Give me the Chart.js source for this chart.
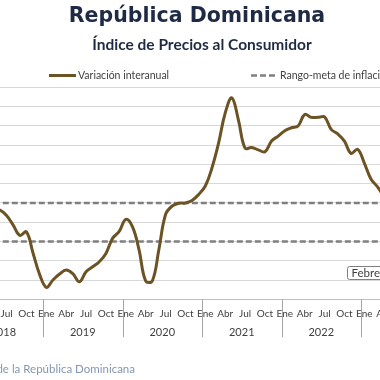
<!DOCTYPE html>
<html>
<head>
<meta charset="utf-8">
<script src="https://cdn.jsdelivr.net/npm/chart.js@4/dist/chart.umd.min.js"></script>
<style>
  html, body { margin: 0; padding: 0; background: #fff; overflow: hidden; }
  #wrap { position: relative; width: 380px; height: 380px; overflow: hidden; }
  #myChart { position: absolute; left: -60px; top: 0; }
</style>
</head>
<body>
<div id="wrap"><canvas id="myChart" width="560" height="380"></canvas></div>
<script>
// datos
const years = ['2018', '2019', '2020', '2021', '2022', '2023'];
const monthNames = ['Ene', 'Feb', 'Mar', 'Abr', 'May', 'Jun', 'Jul', 'Ago', 'Sep', 'Oct', 'Nov', 'Dic'];
const shownMonths = ['Ene', 'Abr', 'Jul', 'Oct'];

// variación interanual del IPC (%), ene 2018 - dic 2023
const var2018 = [null, null, null, null, 4.65, 4.63, 4.35, 3.85, 3.32, 3.5, 2.39, 1.28];
const var2019 = [0.62, 1.0, 1.31, 1.52, 1.33, 0.91, 1.43, 1.69, 1.95, 2.38, 3.16, 3.52];
const var2020 = [4.15, 3.77, 2.56, 0.95, 0.95, 2.6, 4.4, 4.84, 4.98, 5.0, 5.13, 5.44];
const var2021 = [5.88, 6.81, 8.1, 9.66, 10.45, 9.3, 7.84, 7.88, 7.75, 7.66, 8.21, 8.47];
const var2022 = [8.75, 8.9, 8.99, 9.59, 9.44, 9.44, 9.46, 8.82, 8.58, 8.21, 7.57, 7.78];
const var2023 = [7.07, 6.24, 5.83, 5.3, null, null, null, null, null, null, null, null];

const metaSuperior = 5;
const metaInferior = 3;
const yTicks = [0, 11, 1]; // min, max, paso

const labels = [];
years.forEach(y => monthNames.forEach(m => labels.push(m + ' ' + y)));
const variacion = [].concat(var2018, var2019, var2020, var2021, var2022, var2023);

const OFF = 60; // desplazamiento del canvas respecto a la ventana

const extras = {
    id: 'extras',
    afterDraw(chart) {
        const ctx = chart.ctx;
        const x = chart.scales.x;
        const area = chart.chartArea;
        ctx.save();

        // titulos
        ctx.fillStyle = '#1f2a44';
        ctx.textAlign = 'center';
        ctx.textBaseline = 'middle';
        ctx.font = 'bold 20.5px "DejaVu Sans"';
        ctx.fillText('República Dominicana', OFF + 197, 17);
        ctx.font = 'bold 15.5px Lato';
        ctx.fillText('Índice de Precios al Consumidor', OFF + 202, 45);

        // leyenda
        const ds = chart.data.datasets;
        const items = [
            { ds: ds[0], x0: OFF + 49, text: 'Variación interanual' },
            { ds: ds[1], x0: OFF + 251, text: 'Rango-meta de inflación' }
        ];
        ctx.font = '10.5px Lato';
        ctx.textAlign = 'left';
        items.forEach(it => {
            ctx.beginPath();
            ctx.strokeStyle = it.ds.borderColor;
            ctx.lineWidth = it.ds.borderWidth;
            ctx.setLineDash(it.ds.borderDash || []);
            ctx.moveTo(it.x0, 75.5);
            ctx.lineTo(it.x0 + 27, 75.5);
            ctx.stroke();
            ctx.setLineDash([]);
            ctx.fillStyle = '#404040';
            ctx.fillText(it.text, it.x0 + 29, 76);
        });

        // separadores y años
        const w = x.getPixelForValue(1) - x.getPixelForValue(0);
        ctx.strokeStyle = '#a6a6a6';
        ctx.lineWidth = 1;
        ctx.fillStyle = '#404040';
        ctx.font = '11px Lato';
        ctx.textAlign = 'center';
        years.forEach((y, i) => {
            const start = x.getPixelForValue(i * 12) - w / 2;
            const end = x.getPixelForValue(i * 12 + 11) + w / 2;
            ctx.beginPath();
            ctx.moveTo(Math.round(start) + 0.5, area.bottom);
            ctx.lineTo(Math.round(start) + 0.5, area.bottom + 38);
            ctx.stroke();
            ctx.fillText(y, (start + end) / 2, 332);
        });

        // etiqueta del último dato
        ctx.strokeStyle = '#7f7f7f';
        ctx.fillStyle = '#fff';
        ctx.beginPath();
        ctx.roundRect(OFF + 347.5, 266.5, 80, 13, 2);
        ctx.fill();
        ctx.stroke();
        ctx.fillStyle = '#404040';
        ctx.textAlign = 'left';
        ctx.font = '11.5px Lato';
        ctx.fillText('Febrero 2023', OFF + 351.5, 273.5);

        // fuente
        ctx.fillStyle = '#8497b0';
        ctx.textAlign = 'right';
        ctx.font = '11.5px Lato';
        ctx.fillText('Fuente: Banco Central de la República Dominicana', OFF + 135, 369);

        ctx.restore();
    }
};

const ctx = document.getElementById('myChart').getContext('2d');
const myChart = new Chart(ctx, {
    type: 'line',
    data: {
        labels: labels,
        datasets: [{
            label: 'Variación interanual',
            data: variacion,
            borderColor: '#6b5324',
            borderWidth: 3,
            tension: 0.4,
            pointRadius: 0,
            spanGaps: false,
            order: 0
        }, {
            label: 'Rango-meta de inflación',
            data: labels.map(() => metaSuperior),
            borderColor: '#7f7f7f',
            borderWidth: 2.5,
            borderDash: [6, 3],
            pointRadius: 0,
            order: 1
        }, {
            label: 'Rango-meta inferior',
            data: labels.map(() => metaInferior),
            borderColor: '#7f7f7f',
            borderWidth: 2.5,
            borderDash: [6, 3],
            pointRadius: 0,
            order: 1
        }]
    },
    options: {
        responsive: false,
        animation: false,
        devicePixelRatio: 1,
        layout: {
            padding: { left: 23.5, right: 59.5, top: 87.3, bottom: 52.7 }
        },
        plugins: {
            legend: { display: false },
            title: { display: false },
            tooltip: { enabled: false }
        },
        scales: {
            x: {
                offset: true,
                grid: { display: false, drawTicks: false },
                border: { display: true, color: '#bfbfbf', width: 1 },
                ticks: {
                    autoSkip: false,
                    maxRotation: 0,
                    padding: 8,
                    color: '#404040',
                    font: { family: 'Lato', size: 10 },
                    callback: function (val) {
                        const m = monthNames[val % 12];
                        return shownMonths.includes(m) ? m : '';
                    }
                }
            },
            y: {
                min: yTicks[0],
                max: yTicks[1],
                ticks: { display: false, stepSize: yTicks[2] },
                grid: {
                    drawTicks: false,
                    color: c => c.tick && c.tick.value === 0 ? '#bfbfbf' : '#d9d9d9'
                },
                border: { display: false }
            }
        }
    },
    plugins: [extras]
});
</script>
</body>
</html>
